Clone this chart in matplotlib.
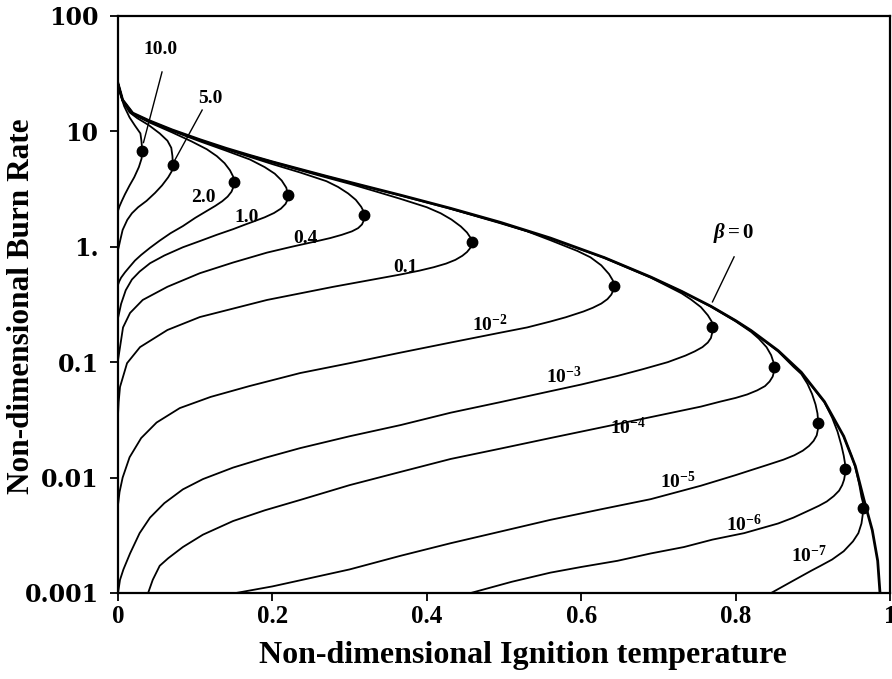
import numpy as np
import matplotlib.pyplot as plt
from matplotlib.ticker import NullLocator

plt.rcParams['font.family'] = 'Liberation Serif'
plt.rcParams['font.weight'] = 'bold'
plt.rcParams['mathtext.fontset'] = 'custom'
plt.rcParams['mathtext.rm'] = 'Liberation Serif:bold'
plt.rcParams['mathtext.it'] = 'Liberation Serif:italic:bold'
plt.rcParams['mathtext.bf'] = 'Liberation Serif:bold'

# beta = 0 envelope
env_x = [0, 0.006, 0.019, 0.04, 0.07, 0.106, 0.14, 0.171, 0.20, 0.236, 0.27, 0.301, 0.335, 0.366,
         0.43, 0.495, 0.56, 0.63, 0.69, 0.73, 0.768, 0.80, 0.82, 0.855, 0.885, 0.915, 0.94, 0.955,
         0.966, 0.977, 0.984, 0.987]
env_y = [26, 18.7, 14.4, 12.4, 10.3, 8.47, 7.13, 6.18, 5.44, 4.69, 4.08, 3.61, 3.16, 2.80,
         2.16, 1.63, 1.19, 0.805, 0.547, 0.411, 0.305, 0.229, 0.188, 0.126, 0.0818, 0.0455, 0.0228, 0.0126,
         0.0065, 0.0035, 0.0019, 0.001]

# beta curves: upper branch -> turning point -> lower branch
b10_x = [0, 0.003, 0.008, 0.015, 0.022, 0.029, 0.0303, 0.0309, 0.031, 0.0305, 0.027, 0.021, 0.015,
         0.009, 0.005, 0.002, 0]
b10_y = [26, 21, 16.5, 13.2, 11.2, 9.6, 8.3, 7.5, 6.77, 5.8, 4.9, 4.0, 3.4, 2.85, 2.5, 2.25, 2.05]

b5_x = [0, 0.006, 0.015, 0.025, 0.04, 0.054, 0.064, 0.069, 0.0705, 0.071, 0.0695, 0.065, 0.057, 0.048,
        0.037, 0.026, 0.018, 0.012, 0.006, 0.003, 0.001, 0]
b5_y = [26, 18.3, 14.6, 13.0, 11.3, 9.6, 8.3, 7.2, 6.1, 5.12, 4.5, 4.0, 3.4, 2.93, 2.5, 2.2, 1.95,
        1.71, 1.4, 1.15, 1.0, 0.94]

b2_x = [0, 0.006, 0.019, 0.04, 0.07, 0.095, 0.115, 0.128, 0.138, 0.145, 0.1492, 0.150, 0.1495, 0.147,
        0.142, 0.135, 0.126, 0.119, 0.10, 0.084, 0.068, 0.054, 0.0415, 0.03, 0.022, 0.015, 0.009,
        0.004, 0.0015, 0]
b2_y = [26, 18.5, 14.1, 12.0, 9.8, 8.2, 7.0, 6.1, 5.3, 4.6, 4.05, 3.65, 3.3, 3.0, 2.72, 2.48, 2.26,
        2.12, 1.78, 1.51, 1.31, 1.13, 0.98, 0.85, 0.76, 0.67, 0.60, 0.54, 0.50, 0.467]

b1_x = [0, 0.006, 0.019, 0.04, 0.07, 0.106, 0.14, 0.171, 0.19, 0.203, 0.212, 0.218, 0.220, 0.2195,
        0.217, 0.211, 0.202, 0.19, 0.175, 0.165, 0.149, 0.128, 0.106, 0.084, 0.06, 0.0415, 0.028,
        0.018, 0.01, 0.004, 0]
b1_y = [26, 18.6, 14.3, 12.2, 10.1, 8.2, 6.8, 5.7, 4.9, 4.3, 3.75, 3.25, 2.81, 2.55, 2.35, 2.14,
        1.96, 1.80, 1.65, 1.56, 1.42, 1.27, 1.12, 0.99, 0.84, 0.72, 0.61, 0.52, 0.42, 0.32, 0.241]

b04_x = [0, 0.006, 0.019, 0.04, 0.07, 0.106, 0.14, 0.171, 0.20, 0.236, 0.27, 0.285, 0.298, 0.308,
         0.315, 0.3185, 0.319, 0.3185, 0.316, 0.311, 0.303, 0.29, 0.275, 0.258, 0.225, 0.193, 0.149,
         0.106, 0.064, 0.032, 0.0156, 0.0065, 0.0026, 0]
b04_y = [26, 18.6, 14.3, 12.3, 10.2, 8.35, 7.0, 6.0, 5.2, 4.4, 3.7, 3.3, 2.9, 2.55, 2.22, 2.0, 1.89,
         1.70, 1.56, 1.45, 1.36, 1.27, 1.19, 1.12, 1.0, 0.89, 0.73, 0.59, 0.45, 0.346, 0.267, 0.20,
         0.135, 0.104]

b01_x = [0, 0.006, 0.019, 0.04, 0.07, 0.106, 0.14, 0.171, 0.20, 0.236, 0.27, 0.301, 0.335, 0.366,
         0.40, 0.418, 0.432, 0.444, 0.452, 0.4565, 0.458, 0.4575, 0.456, 0.452, 0.446, 0.437, 0.425,
         0.409, 0.39, 0.366, 0.279, 0.193, 0.106, 0.064, 0.0285, 0.0117, 0.0026, 0.0008, 0]
b01_y = [26, 18.7, 14.35, 12.35, 10.25, 8.42, 7.08, 6.13, 5.38, 4.6, 3.98, 3.5, 3.0, 2.6, 2.2, 1.95,
         1.72, 1.5, 1.33, 1.2, 1.10, 1.03, 0.97, 0.90, 0.835, 0.77, 0.715, 0.665, 0.62, 0.575, 0.45,
         0.346, 0.246, 0.19, 0.135, 0.098, 0.061, 0.045, 0.035]

b1e2_x = [0.171, 0.236, 0.301, 0.366, 0.43, 0.495, 0.53, 0.56, 0.595, 0.612, 0.626, 0.636, 0.641,
          0.642, 0.6415, 0.639, 0.634, 0.626, 0.615, 0.603, 0.58, 0.56, 0.53, 0.495, 0.431, 0.366,
          0.30, 0.236, 0.17, 0.12, 0.08, 0.05, 0.03, 0.015, 0.006, 0.002, 0]
b1e2_y = [6.16, 4.67, 3.59, 2.78, 2.14, 1.6, 1.36, 1.14, 0.92, 0.81, 0.69, 0.58, 0.51, 0.46, 0.42,
          0.385, 0.352, 0.322, 0.296, 0.275, 0.245, 0.225, 0.2, 0.18, 0.148, 0.121, 0.098, 0.0805,
          0.062, 0.05, 0.04, 0.030, 0.022, 0.015, 0.010, 0.0075, 0.0058]

b1e3_x = [0.43, 0.495, 0.56, 0.63, 0.69, 0.712, 0.73, 0.742, 0.755, 0.764, 0.769, 0.770, 0.7695,
          0.768, 0.764, 0.757, 0.747, 0.735, 0.712, 0.68, 0.647, 0.60, 0.56, 0.495, 0.431, 0.366,
          0.30, 0.236, 0.19, 0.149, 0.11, 0.084, 0.06, 0.0415, 0.028, 0.0156, 0.007, 0.0026, 0]
b1e3_y = [2.15, 1.62, 1.18, 0.80, 0.54, 0.455, 0.395, 0.35, 0.30, 0.255, 0.225, 0.20, 0.178, 0.162,
          0.148, 0.135, 0.124, 0.114, 0.100, 0.087, 0.076, 0.064, 0.056, 0.045, 0.0365, 0.0285,
          0.0228, 0.018, 0.0148, 0.0122, 0.0097, 0.0079, 0.006, 0.0045, 0.0033, 0.0022, 0.0016,
          0.0013, 0.001]

b1e4_x = [0.63, 0.69, 0.73, 0.768, 0.80, 0.82, 0.83, 0.84, 0.846, 0.849, 0.850, 0.8495, 0.848, 0.844,
          0.838, 0.828, 0.815, 0.80, 0.78, 0.755, 0.69, 0.625, 0.56, 0.495, 0.431, 0.366, 0.30, 0.236,
          0.19, 0.149, 0.11, 0.084, 0.065, 0.054, 0.045, 0.039]
b1e4_y = [0.805, 0.546, 0.41, 0.303, 0.226, 0.183, 0.16, 0.135, 0.115, 0.10, 0.091, 0.082, 0.075,
          0.068, 0.062, 0.057, 0.0525, 0.049, 0.0455, 0.0412, 0.0334, 0.0271, 0.022, 0.0178, 0.0145,
          0.0112, 0.0086, 0.0064, 0.0052, 0.0042, 0.0032, 0.0025, 0.0020, 0.00172, 0.0013, 0.001]

b1e5_x = [0.768, 0.80, 0.82, 0.855, 0.875, 0.885, 0.893, 0.899, 0.9035, 0.906, 0.907, 0.9065, 0.905,
          0.901, 0.895, 0.887, 0.876, 0.862, 0.84, 0.82, 0.80, 0.755, 0.69, 0.625, 0.56, 0.495, 0.431,
          0.366, 0.30, 0.25, 0.20, 0.153]
b1e5_y = [0.305, 0.229, 0.187, 0.124, 0.091, 0.079, 0.065, 0.053, 0.043, 0.036, 0.030, 0.026, 0.0232,
          0.0208, 0.0188, 0.0171, 0.0156, 0.0143, 0.0128, 0.0116, 0.0105, 0.0085, 0.0065, 0.0053,
          0.0043, 0.0034, 0.0027, 0.0021, 0.0016, 0.00135, 0.00114, 0.001]

b1e6_x = [0.885, 0.915, 0.925, 0.932, 0.937, 0.94, 0.9415, 0.942, 0.9417, 0.9405, 0.938, 0.934, 0.927,
          0.918, 0.908, 0.898, 0.875, 0.855, 0.811, 0.77, 0.733, 0.69, 0.647, 0.60, 0.56, 0.51, 0.457]
b1e6_y = [0.081, 0.045, 0.033, 0.025, 0.019, 0.0155, 0.0135, 0.0119, 0.0107, 0.0096, 0.0086, 0.0077,
          0.0069, 0.0062, 0.0057, 0.0053, 0.0045, 0.0040, 0.0033, 0.0029, 0.0025, 0.0022, 0.0019,
          0.00168, 0.0015, 0.00125, 0.001]

b1e7_x = [0.94, 0.95, 0.955, 0.96, 0.963, 0.9648, 0.965, 0.9645, 0.963, 0.959, 0.952, 0.94, 0.925,
          0.91, 0.898, 0.872, 0.846]
b1e7_y = [0.0226, 0.0155, 0.0123, 0.0088, 0.0068, 0.0061, 0.00546, 0.0047, 0.0040, 0.0033, 0.0028,
          0.0023, 0.00195, 0.00172, 0.00156, 0.00125, 0.001]

# turning points (dots)
dot_x = [0.031, 0.071, 0.150, 0.220, 0.319, 0.458, 0.642, 0.770, 0.850, 0.907, 0.942, 0.965]
dot_y = [6.77, 5.12, 3.65, 2.81, 1.89, 1.10, 0.46, 0.20, 0.091, 0.030, 0.0119, 0.00546]

# curve labels
lab_text = ['2.0', '1.0', '0.4', '0.1', r'$10^{-2}$', r'$10^{-3}$', r'$10^{-4}$', r'$10^{-5}$',
            r'$10^{-6}$', r'$10^{-7}$']
lab_x = [0.110, 0.167, 0.243, 0.372, 0.482, 0.577, 0.660, 0.725, 0.811, 0.895]
lab_y = [2.65, 1.78, 1.19, 0.655, 0.21, 0.0745, 0.0269, 0.0092, 0.0039, 0.0021]

xticks = [0, 0.2, 0.4, 0.6, 0.8, 1.0]
xtick_labels = ['0', '0.2', '0.4', '0.6', '0.8', '1']
yticks = [0.001, 0.01, 0.1, 1, 10, 100]
ytick_labels = ['0.001', '0.01', '0.1', '1.', '10', '100']

fig = plt.figure(figsize=(8.92, 6.79), dpi=100)
ax = fig.add_axes([0.1323, 0.1267, 0.8655, 0.8498])
ax.set_yscale('log')

curves = [(b10_x, b10_y), (b5_x, b5_y), (b2_x, b2_y), (b1_x, b1_y), (b04_x, b04_y), (b01_x, b01_y),
          (b1e2_x, b1e2_y), (b1e3_x, b1e3_y), (b1e4_x, b1e4_y), (b1e5_x, b1e5_y), (b1e6_x, b1e6_y),
          (b1e7_x, b1e7_y)]
for cx, cy in curves:
    ax.plot(cx, cy, color='black', lw=1.3, solid_joinstyle='round')
ax.plot(env_x, env_y, color='black', lw=2.0, solid_joinstyle='round')
ax.plot(dot_x, dot_y, 'o', color='black', ms=7.5)

for t, x, y in zip(lab_text, lab_x, lab_y):
    ax.text(x, y, t, fontsize=14, fontweight='bold', ha='center', va='center')

# labels with leader lines
ax.text(0.0545, 50.7, '10.0', fontsize=14, fontweight='bold', ha='center', va='center')
ax.plot([0.057, 0.033], [32.7, 8.0], color='black', lw=1.0)
ax.text(0.119, 19.1, '5.0', fontsize=14, fontweight='bold', ha='center', va='center')
ax.plot([0.109, 0.074], [15.3, 5.7], color='black', lw=1.0)
ax.text(0.798, 1.32, r'$\beta = 0$', fontsize=15, ha='center', va='center')
ax.plot([0.798, 0.770], [0.817, 0.333], color='black', lw=1.0)

ax.set_xlim(0, 1)
ax.set_ylim(0.001, 100)
ax.set_xticks(xticks)
ax.set_xticklabels(xtick_labels, fontfamily='Liberation Serif', fontweight='bold', fontsize=18)
ax.set_yticks(yticks)
ax.set_yticklabels(ytick_labels, fontfamily='DejaVu Serif', fontweight='bold', fontsize=17)
ax.yaxis.set_minor_locator(NullLocator())
ax.tick_params(direction='out', length=6, width=1.3)
ax.tick_params(axis='y', pad=8)
ax.tick_params(axis='x', pad=3)
for s in ax.spines.values():
    s.set_linewidth(1.6)

fig.text(523 / 892, 1 - 655 / 679, 'Non-dimensional Ignition temperature', fontsize=23,
         fontweight='bold', ha='center', va='center')
fig.text(22 / 892, 1 - 306 / 679, 'Non-dimensional Burn Rate', fontsize=22.5, fontweight='bold',
         ha='center', va='center', rotation=90)

fig.savefig('out.png', dpi=100)
